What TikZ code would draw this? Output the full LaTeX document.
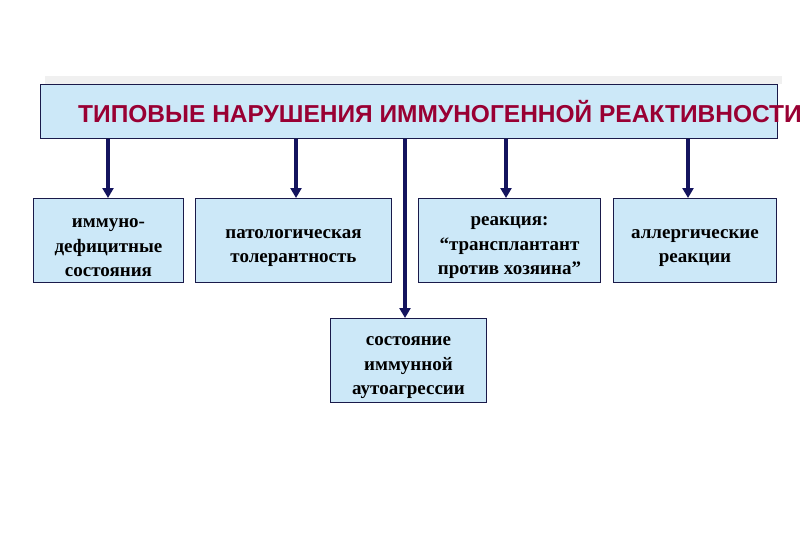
\documentclass[tikz,border=0pt]{standalone}
\usepackage{fontspec}
\setmainfont{Liberation Serif}
\newfontfamily\titlefont{Liberation Sans}
\usetikzlibrary{arrows.meta}
\definecolor{boxfill}{HTML}{CCE8F8}
\definecolor{boxline}{HTML}{1A1A4A}
\definecolor{arrowc}{HTML}{14145E}
\definecolor{titlec}{HTML}{990033}
\newcommand{\topst}{\rule{0pt}{24pt}}
\begin{document}
\begin{tikzpicture}[x=1pt,y=-1pt,
  box/.style={draw=boxline,line width=1pt,fill=boxfill,minimum height=84pt,inner sep=0pt,
    font=\fontsize{19}{24.5}\selectfont\bfseries,align=center,text=black},
  conn/.style={draw=arrowc,line width=3.5pt,-{Triangle[length=10pt,width=11pt]}}]
\useasboundingbox (0,0) rectangle (810,540);
\fill[white] (0,0) rectangle (810,540);
\fill[black!6] (45,76) rectangle (782,84);
\node[draw=boxline,line width=1pt,fill=boxfill,minimum width=737pt,minimum height=54pt,inner sep=0pt,anchor=north west] (title) at (40,84) {};
\node[anchor=west,text=titlec,inner sep=0pt,font=\titlefont\fontsize{24.5}{28}\selectfont\bfseries] (tt) at (78,112) {ТИПОВЫЕ НАРУШЕНИЯ ИММУНОГЕННОЙ РЕАКТИВНОСТИ};
\node[box,minimum width=150pt,anchor=north west] (b1) at (33,198) {\topst иммуно-\\дефицитные\\состояния};
\node[box,minimum width=196pt,anchor=north west] (b2) at (195,198) {\topst патологическая\\толерантность};
\node[box,minimum width=182pt,anchor=north west] (b3) at (418,198) {\topst реакция:\\“трансплантант\\против хозяина”};
\node[box,minimum width=163pt,anchor=north west] (b4) at (613,198) {\topst аллергические\\реакции};
\node[box,minimum width=156pt,anchor=north west] (b5) at (330,318) {\topst состояние\\иммунной\\аутоагрессии};
\draw[conn] (title.south -| 108,0) -- (b1.north -| 108,0);
\draw[conn] (title.south -| 296,0) -- (b2.north -| 296,0);
\draw[conn] (title.south -| 405,0) -- (b5.north -| 405,0);
\draw[conn] (title.south -| 506,0) -- (b3.north -| 506,0);
\draw[conn] (title.south -| 688,0) -- (b4.north -| 688,0);
\end{tikzpicture}
\end{document}
